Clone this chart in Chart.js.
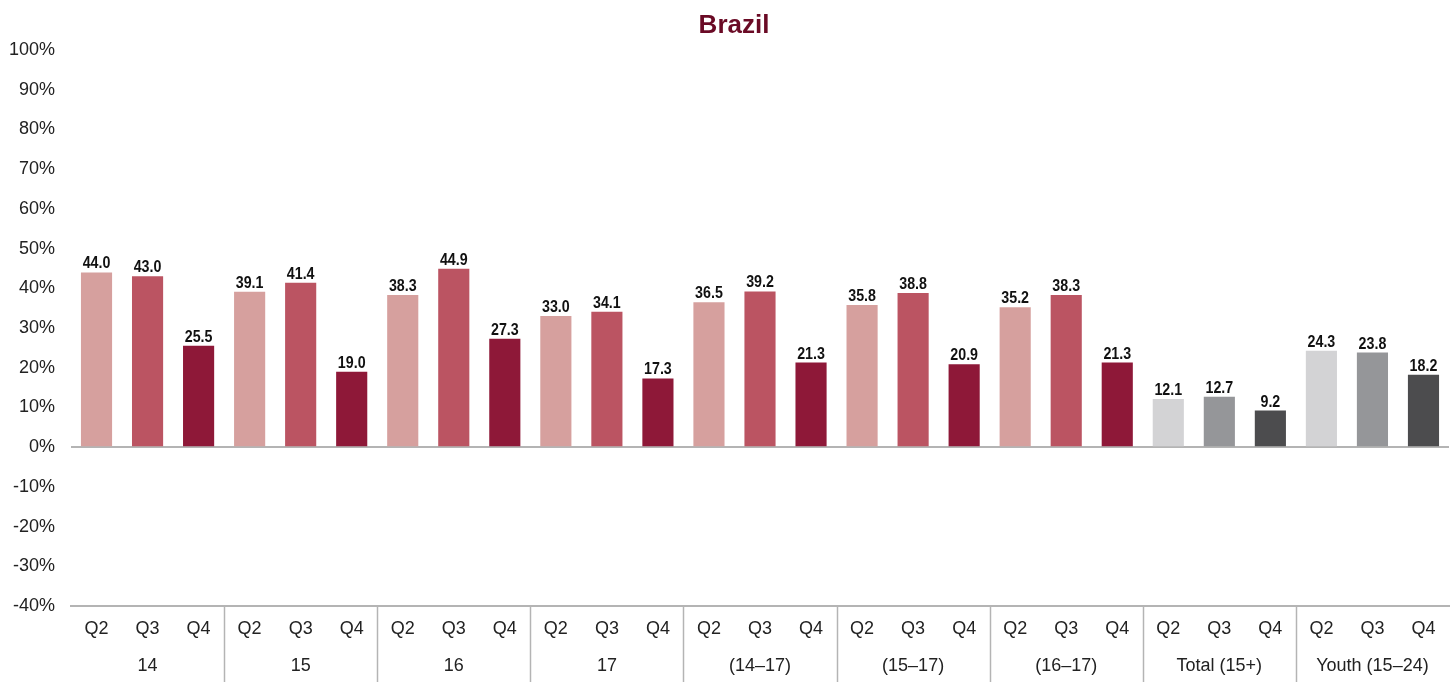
<!DOCTYPE html>
<html><head><meta charset="utf-8">
<script src="https://cdn.jsdelivr.net/npm/chart.js@4"></script>
<style>html,body{margin:0;padding:0;background:#fff}#wrap{width:1456px;height:682px}</style>
</head><body><div id="wrap"><canvas id="c"></canvas></div>
<script>
const title = "Brazil";
const groups = ["14", "15", "16", "17", "(14\u201317)", "(15\u201317)", "(16\u201317)", "Total (15+)", "Youth (15\u201324)"];
const quarters = ["Q2", "Q3", "Q4"];
const values = [
  44.0, 43.0, 25.5,
  39.1, 41.4, 19.0,
  38.3, 44.9, 27.3,
  33.0, 34.1, 17.3,
  36.5, 39.2, 21.3,
  35.8, 38.8, 20.9,
  35.2, 38.3, 21.3,
  12.1, 12.7, 9.2,
  24.3, 23.8, 18.2
];
const yTicks = [-40, -30, -20, -10, 0, 10, 20, 30, 40, 50, 60, 70, 80, 90, 100];

const categories = [];
groups.forEach(() => quarters.forEach(q => categories.push(q)));

const redShades = ["#d6a09e", "#bb5462", "#8e1838"];
const greyShades = ["#d3d3d5", "#959699", "#4c4c4e"];
const greyGroups = 2;

function barColor(ctx) {
  const i = ctx.dataIndex;
  const g = Math.floor(i / 3);
  const shades = g >= groups.length - greyGroups ? greyShades : redShades;
  return shades[i % 3];
}

const valueLabels = {
  id: 'valueLabels',
  afterDatasetsDraw(chart) {
    const ctx = chart.ctx;
    const meta = chart.getDatasetMeta(0);
    const sx = 0.89;
    ctx.save();
    ctx.fillStyle = '#111';
    ctx.font = "bold 16px 'Liberation Sans', Arial, sans-serif";
    ctx.textAlign = 'center';
    ctx.textBaseline = 'alphabetic';
    meta.data.forEach((bar, i) => {
      ctx.save();
      ctx.translate(bar.x, bar.y - 4);
      ctx.scale(sx, 1);
      ctx.fillText(values[i].toFixed(1), 0, 0);
      ctx.restore();
    });
    ctx.restore();
  }
};

const titleDraw = {
  id: 'titleDraw',
  afterDraw(chart) {
    const ctx = chart.ctx;
    ctx.save();
    ctx.fillStyle = '#6a0a25';
    ctx.font = "bold 26px 'Liberation Sans', Arial, sans-serif";
    ctx.textAlign = 'center';
    ctx.textBaseline = 'alphabetic';
    ctx.fillText(title, 734, 33);
    ctx.restore();
  }
};

const separators = {
  id: 'separators',
  afterDraw(chart) {
    const xs = chart.scales.x;
    const ctx = chart.ctx;
    ctx.save();
    ctx.strokeStyle = '#b4b4b4';
    ctx.lineWidth = 1.5;
    for (let g = 1; g < groups.length; g++) {
      const x = (xs.getPixelForValue(g * 3 - 1) + xs.getPixelForValue(g * 3)) / 2;
      ctx.beginPath();
      ctx.moveTo(Math.round(x) + 0.5, chart.chartArea.bottom);
      ctx.lineTo(Math.round(x) + 0.5, chart.height);
      ctx.stroke();
    }
    ctx.restore();
  }
};

const tickFont = { family: "'Liberation Sans', Arial, sans-serif", size: 18 };

new Chart(document.getElementById('c'), {
  type: 'bar',
  data: {
    labels: categories,
    datasets: [{
      data: values,
      backgroundColor: barColor,
      barPercentage: 0.61,
      categoryPercentage: 1.0,
      xAxisID: 'x'
    }]
  },
  options: {
    responsive: true,
    maintainAspectRatio: false,
    animation: false,
    layout: { padding: { left: 0, right: 7, top: 50, bottom: 0 } },
    plugins: {
      legend: { display: false },
      tooltip: { enabled: false },
      title: { display: false }
    },
    scales: {
      x: {
        type: 'category',
        position: 'bottom',
        grid: { display: false, drawTicks: false },
        border: { display: true, color: '#b4b4b4', width: 2 },
        ticks: { color: '#222', font: tickFont, padding: 12, maxRotation: 0, autoSkip: false },
        afterFit(s) { s.height = 38; }
      },
      x2: {
        type: 'category',
        position: 'bottom',
        labels: groups,
        offset: true,
        grid: { display: false, drawTicks: false },
        border: { display: false },
        ticks: { color: '#222', font: tickFont, padding: 11, maxRotation: 0, autoSkip: false },
        afterFit(s) { s.height = 38; }
      },
      y: {
        min: -40,
        max: 100,
        afterBuildTicks(s) { s.ticks = yTicks.map(v => ({ value: v })); },
        grid: {
          drawTicks: false,
          color: c => (c.tick && c.tick.value === 0 ? '#b4b4b4' : 'rgba(0,0,0,0)'),
          lineWidth: 2
        },
        border: { display: false },
        ticks: { color: '#222', font: tickFont, padding: 16, callback: v => v + '%' },
        afterFit(s) { s.width = 71; }
      }
    }
  },
  plugins: [valueLabels, separators, titleDraw]
});
</script>
</body></html>
